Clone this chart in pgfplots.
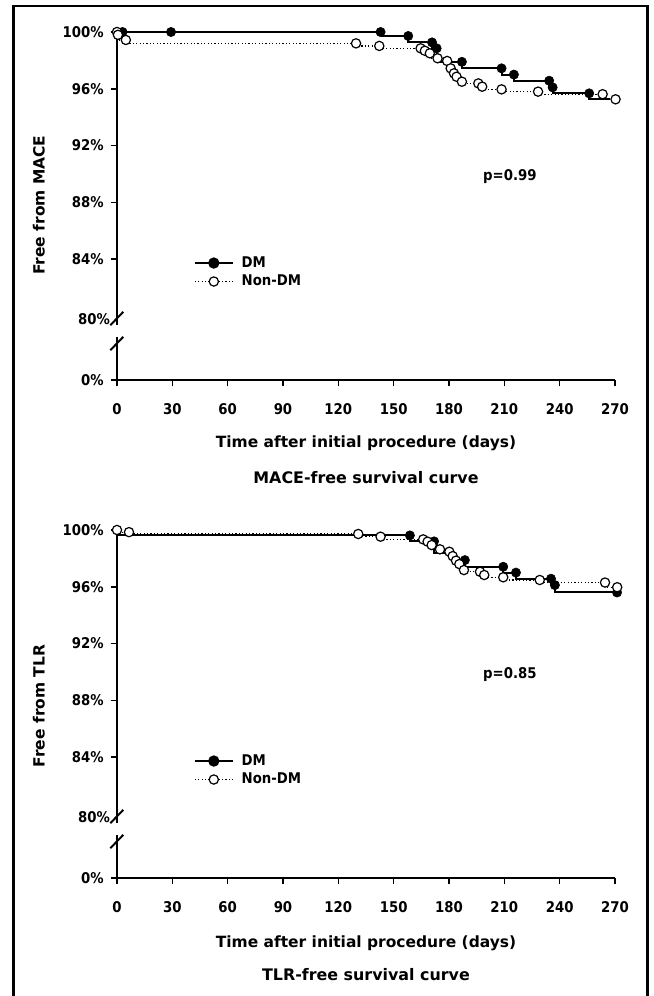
\documentclass[border=0pt]{standalone}
\usepackage{fontspec}
\setmainfont{DejaVu Sans Condensed}
\newfontfamily\widefont{DejaVu Sans}
\usepackage{pgfplots}
\pgfplotsset{compat=1.18}

\newcommand\tf{\bfseries\fontsize{10.5}{12}\selectfont}
\newcommand\smf{\bfseries\fontsize{10.5}{12}\selectfont}
\newcommand\lf{\widefont\bfseries\fontsize{11}{13}\selectfont}
\newcommand\ttf{\widefont\bfseries\fontsize{11.3}{13}\selectfont}

\pgfplotsset{
  kmaxis/.style={
    scale only axis, width=124.5mm, height=87mm,
    anchor=south west,
    xmin=0, xmax=270, ymin=75.49, ymax=100,
    axis x line*=bottom, axis y line*=left,
    axis line style={line width=0.5mm, -},
    tick align=outside, major tick length=1.6mm,
    tick style={line width=0.4mm, black},
    xtick={0,30,...,270},
    xticklabels={0,30,60,90,120,150,180,210,240,270},
    ytick={75.49,84,88,92,96,100},
    yticklabels={0\%,84\%,88\%,92\%,96\%,100\%},
    extra y ticks={79.75}, extra y tick labels={80\%},
    extra y tick style={major tick length=0pt},
    ticklabel style={font=\tf},
    xticklabel style={yshift=-3mm},
    yticklabel style={xshift=-0.5mm},
    /pgf/number format/assume math mode=true,
    clip=false,
    legend style={draw=none, fill=none, at={(axis cs:41.5,84.4)}, anchor=north west,
      font=\smf, row sep=0pt, inner sep=0pt},
    legend cell align=left,
    legend image code/.code={\draw[mark repeat=2,mark phase=2] plot coordinates {(0mm,0mm) (4.75mm,0mm) (9.5mm,0mm)}; \path (10.75mm,0mm);},
  },
  dmline/.style={black, line width=0.5mm, const plot mark right, no marks, forget plot},
  dmmark/.style={black, only marks, mark=*, mark size=3.3pt, forget plot},
  ndline/.style={black, line width=0.3mm, dash pattern=on 0.3mm off 0.55mm, const plot mark right, no marks, forget plot},
  ndmark/.style={only marks, mark=*, mark size=3.3pt, mark options={fill=white, draw=black, line width=0.3mm}, forget plot},
}

\newcommand\kmlegend{%
  \addlegendimage{black, line width=0.5mm, mark=*, mark size=3.3pt}
  \addlegendentry{DM}
  \addlegendimage{black, line width=0.3mm, dash pattern=on 0.3mm off 0.55mm, mark=*, mark size=3.3pt, mark options={solid, fill=white, line width=0.3mm}}
  \addlegendentry{Non-DM}}

\newcommand\kmbreak{%
  \coordinate (b1) at (axis cs:-3.6,79.35);
  \coordinate (b2) at (axis cs:3.4,80.29);
  \coordinate (b3) at (axis cs:-3.6,77.59);
  \coordinate (b4) at (axis cs:3.4,78.53);
  \coordinate (g1) at (axis cs:-1.6,78.5);
  \coordinate (g2) at (axis cs:1.6,79.35);}

\newcommand\drawbreak{%
  \fill[white] (g1) rectangle (g2);
  \draw[line width=0.5mm] (b1) -- (b2) (b3) -- (b4);}

\begin{document}
\begin{tikzpicture}
\useasboundingbox (0,0) rectangle (163.5mm,-249mm);
\draw[line width=0.7mm] (3.4mm,-252mm) -- (3.4mm,-1.5mm) -- (161.8mm,-1.5mm) -- (161.8mm,-252mm);

% MACE
\begin{axis}[kmaxis, at={(29.25mm,-95mm)}]
  \addplot[ndline] coordinates {(0,100) (0.5,99.8) (4.8,99.44) (129.6,99.2) (142.2,99.02) (164.6,98.85) (166.9,98.68) (169.6,98.5) (173.8,98.15) (179,97.96) (180.9,97.44) (182.7,97.09) (184.1,96.85) (187,96.5) (195.9,96.38) (198,96.15) (208.5,95.96) (228.3,95.8) (263.3,95.62) (270.3,95.26)};
  \addplot[dmline] coordinates {(0,100) (3,100) (29.3,100) (142.9,100) (157.9,99.72) (170.8,99.27) (173.3,98.85) (187,97.9) (208.5,97.44) (215.2,97.0) (234.3,96.57) (236.2,96.1) (256,95.68) (267.2,95.26)};
  \addplot[dmmark] coordinates {(3,100) (29.3,100) (142.9,100) (157.9,99.72) (170.8,99.27) (173.3,98.85) (187,97.9) (208.5,97.44) (215.2,97.0) (234.3,96.57) (236.2,96.1) (256,95.68)};
  \addplot[ndmark] coordinates {(0,100) (0.5,99.8) (4.8,99.44) (129.6,99.2) (142.2,99.02) (164.6,98.85) (166.9,98.68) (169.6,98.5) (173.8,98.15) (179,97.96) (180.9,97.44) (182.7,97.09) (184.1,96.85) (187,96.5) (195.9,96.38) (198,96.15) (208.5,95.96) (228.3,95.8) (263.3,95.62) (270.3,95.26)};
  \kmlegend
  \node[font=\smf] at (axis cs:213,89.85) {p=0.99};
  \node[font=\lf, rotate=90] at (axis cs:-42.4,87.8) {Free from MACE};
  \node[font=\lf, yshift=-15.75mm] at (axis cs:135,75.49) {Time after initial procedure (days)};
  \node[font=\ttf, yshift=-24.5mm] at (axis cs:135,75.49) {MACE-free survival curve};
  \kmbreak
\end{axis}
\drawbreak

% TLR
\begin{axis}[kmaxis, at={(29.25mm,-219.5mm)}]
  \addplot[ndline] coordinates {(0,100) (6.5,99.85) (130.8,99.72) (142.9,99.53) (166,99.34) (168.4,99.18) (170.6,98.94) (175.1,98.64) (180.2,98.47) (182,98.16) (183.8,97.84) (185.6,97.6) (188.1,97.18) (196.8,97.06) (199.1,96.83) (209.4,96.67) (229.2,96.48) (264.6,96.3) (271.2,95.97)};
  \addplot[dmline] coordinates {(0,99.62) (158.8,99.62) (171.9,99.2) (181.8,98.4) (188.6,97.88) (209.4,97.41) (216.3,97.0) (235.3,96.57) (237.4,96.12) (271.6,95.6)};
  \addplot[dmmark] coordinates {(158.8,99.62) (171.9,99.2) (188.6,97.88) (209.4,97.41) (216.3,97.0) (235.3,96.57) (237.4,96.12) (271.1,95.6)};
  \addplot[ndmark] coordinates {(0,100) (6.5,99.85) (130.8,99.72) (142.9,99.53) (166,99.34) (168.4,99.18) (170.6,98.94) (175.1,98.64) (180.2,98.47) (182,98.16) (183.8,97.84) (185.6,97.6) (188.1,97.18) (196.8,97.06) (199.1,96.83) (209.4,96.67) (229.2,96.48) (264.6,96.3) (271.2,95.97)};
  \kmlegend
  \node[font=\smf] at (axis cs:213,89.85) {p=0.85};
  \node[font=\lf, rotate=90] at (axis cs:-42.4,87.6) {Free from TLR};
  \node[font=\lf, yshift=-16.25mm] at (axis cs:135,75.49) {Time after initial procedure (days)};
  \node[font=\ttf, yshift=-24.25mm] at (axis cs:135,75.49) {TLR-free survival curve};
  \kmbreak
\end{axis}
\drawbreak
\end{tikzpicture}
\end{document}
